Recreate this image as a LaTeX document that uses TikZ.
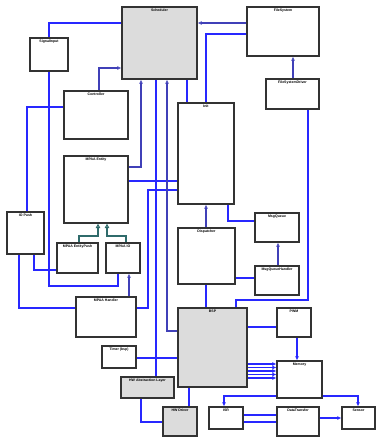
\documentclass[tikz,border=0pt]{standalone}
\usepackage{fontspec}
\setmainfont{Liberation Sans}
\usetikzlibrary{fit,arrows.meta}
\definecolor{cblue}{HTML}{2828FF}
\definecolor{dblue}{HTML}{4040B8}
\definecolor{gfill}{HTML}{DCDCDC}
\definecolor{tealc}{HTML}{2F6B6B}
\newcommand{\bx}[7]{\node[#1,fit={(#3,#4)(#5,#6)}] (#2) {};\node[lab] (#2l) at (#2.north) {#7};}
\begin{document}
\begin{tikzpicture}[x=1pt,y=-1pt,
 box/.style={draw=black!80,line width=1.3pt,inner sep=0pt},
 gbox/.style={box,fill=gfill},
 lab/.style={font=\fontsize{3.5}{4}\selectfont\bfseries,anchor=north,inner sep=0pt,yshift=-2.5pt},
 conn/.style={draw=cblue,line width=1.2pt},
 assoc/.style={draw=dblue,line width=1.2pt,-{Latex[open,length=4pt,width=4pt,line width=0.9pt]}},
 darr/.style={conn,-{Latex[length=4pt,width=4pt]}},
 gen/.style={draw=tealc,line width=1.1pt,-{Triangle[open,length=4.5pt,width=4.5pt]}}]
\useasboundingbox (0,0) rectangle (376,439);
% boxes
\bx{gbox}{ap}{122}{7}{197}{79}{Scheduler}
\bx{box}{fs}{247}{7}{319}{56}{FileSystem}
\bx{box}{fsd}{266}{79}{319}{109}{FileSystemDriver}
\bx{box}{sig}{30}{38}{68}{71}{SignalInput}
\bx{box}{ctl}{64}{91}{128}{139}{Controller}
\bx{box}{ini}{178}{103}{234}{204}{Init}
\bx{box}{ent}{64}{156}{128}{223}{MPAA Entity}
\bx{box}{iop}{7}{212}{44}{254}{IO Push}
\bx{box}{sb1}{57}{243}{98}{273}{MPAA EntityPush}
\bx{box}{sb2}{106}{243}{140}{273}{MPAA IO}
\bx{box}{dsp}{178}{228}{235}{284}{Dispatcher}
\bx{box}{mq}{255}{213}{299}{242}{MsgQueue}
\bx{box}{mqh}{255}{266}{299}{295}{MsgQueueHandler}
\bx{box}{mh}{76}{297}{136}{337}{MPAA Handler}
\bx{box}{tmr}{102}{346}{136}{368}{Timer (bsp)}
\bx{gbox}{hal}{121}{377}{174}{398}{HW Abstraction Layer}
\bx{gbox}{hwd}{163}{407}{197}{436}{HW Driver}
\bx{gbox}{bsp}{178}{308}{247}{387}{BSP}
\bx{box}{pwm}{277}{308}{311}{337}{PWM}
\bx{box}{mem}{277}{361}{322}{398}{Memory}
\bx{box}{isr}{209}{407}{243}{429}{ISR}
\bx{box}{dtu}{277}{407}{319}{436}{DataTransfer}
\bx{box}{sns}{342}{407}{375}{429}{Sensor}
% connectors
\draw[conn] (ap.west |- 0,23) -- (49,23) -- (sig.north);
\draw[conn] (sig.south) -- (49,286) -- (118,286) -- (sb2.south -| 118,0);
\draw[conn] (iop.north -| 27,0) -- (27,107) -- (ctl.west |- 0,107);
\draw[conn] (iop.south -| 19,0) -- (19,308) -- (mh.west |- 0,308);
\draw[conn] (iop.south -| 34,0) -- (34,270) -- (sb1.west |- 0,270);
\draw[assoc] (mh.north -| 129,0) -- (sb2.south -| 129,0);
\draw[conn] (ini.west |- 0,190) -- (148,190) -- (148,308) -- (mh.east |- 0,308);
\draw[conn] (ent.east |- 0,181) -- (ini.west |- 0,181);
\draw[assoc] (ent.east |- 0,167) -- (141,167) -- (ap.south -| 141,0);
\draw[conn] (ap.south -| 156,0) -- (hal.north -| 156,0);
\draw[assoc] (bsp.west |- 0,331) -- (167,331) -- (ap.south -| 167,0);
\draw[conn] (ap.south -| 187,0) -- (ini.north -| 187,0);
\draw[assoc] (ctl.north -| 99,0) -- (99,68) -- (ap.west |- 0,68);
\draw[assoc] (fs.west |- 0,23) -- (ap.east |- 0,23);
\draw[conn] (fs.west |- 0,34) -- (206,34) -- (ini.north -| 206,0);
\draw[assoc] (fsd.north -| 293,0) -- (fs.south -| 293,0);
\draw[conn] (fsd.south -| 308,0) -- (308,300) -- (236,300) -- (bsp.north -| 236,0);
\draw[assoc] (dsp.north -| 206,0) -- (ini.south -| 206,0);
\draw[conn] (ini.south -| 228,0) -- (228,221) -- (mq.west |- 0,221);
\draw[assoc] (mqh.north -| 278,0) -- (mq.south -| 278,0);
\draw[conn] (dsp.east |- 0,278) -- (mqh.west |- 0,278);
\draw[conn] (dsp.south -| 206,0) -- (bsp.north -| 206,0);
\draw[conn] (tmr.east |- 0,358) -- (bsp.west |- 0,358);
\draw[conn] (hal.south -| 141,0) -- (141,422) -- (hwd.west |- 0,422);
\draw[conn] (bsp.south -| 189,0) -- (hwd.north -| 189,0);
\draw[conn] (bsp.east |- 0,327) -- (pwm.west |- 0,327);
\draw[darr] (pwm.south -| 297,0) -- (mem.north -| 297,0);
\foreach \yy in {364,367.5,371,374.5,378}
  \draw[darr] (bsp.east |- 0,\yy) -- (mem.west |- 0,\yy);
\draw[darr] (mem.west |- 0,396) -- (224,396) -- (isr.north -| 224,0);
\draw[darr] (mem.east |- 0,396) -- (358,396) -- (sns.north -| 358,0);
\draw[conn] (isr.east |- 0,415) -- (dtu.west |- 0,415);
\draw[conn] (isr.east |- 0,422) -- (dtu.west |- 0,422);
\draw[darr] (dtu.east |- 0,418) -- (sns.west |- 0,418);
% generalization
\draw[gen] (sb1.north -| 79,0) -- (79,236) -- (98,236) -- (ent.south -| 98,0);
\draw[gen] (sb2.north -| 126,0) -- (126,236) -- (107,236) -- (ent.south -| 107,0);
\end{tikzpicture}
\end{document}
